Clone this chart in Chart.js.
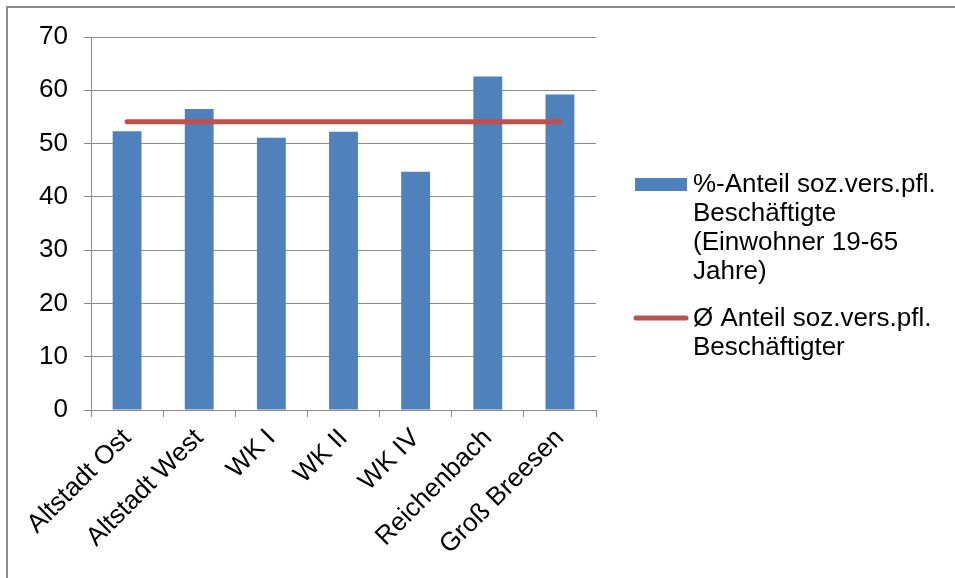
<!DOCTYPE html>
<html>
<head>
<meta charset="utf-8">
<script src="https://cdn.jsdelivr.net/npm/chart.js@4/dist/chart.umd.min.js"></script>
<style>
  html, body { margin: 0; padding: 0; background: #fff; }
  #chartAnteil { display: block; }
</style>
</head>
<body>
<canvas id="chartAnteil" width="955" height="578"></canvas>
<script>
const stadtteile = ['Altstadt Ost', 'Altstadt West', 'WK I', 'WK II', 'WK IV', 'Reichenbach', 'Groß Breesen']
const anteilBeschaeftigte = [52.3, 56.5, 51.1, 52.2, 44.7, 62.6, 59.2]
const durchschnittAnteil = [54.1, 54.1, 54.1, 54.1, 54.1, 54.1, 54.1]
const labelBalken = '%-Anteil soz.vers.pfl. Beschäftigte (Einwohner 19-65 Jahre)'
const labelLinie = 'Ø Anteil soz.vers.pfl. Beschäftigter'
const legendeBalken = ['%-Anteil soz.vers.pfl.', 'Beschäftigte', '(Einwohner 19-65', 'Jahre)']
const legendeLinie = ['Ø Anteil soz.vers.pfl.', 'Beschäftigter']

const fuente = "'Liberation Sans', Arial, sans-serif"
const gris = '#8a8a8a'

// marco gris arriba / izquierda
const marcoPlugin = {
    id: 'marco',
    beforeDraw(chart) {
        const ctx = chart.ctx
        ctx.save()
        ctx.strokeStyle = gris
        ctx.lineWidth = 2
        ctx.beginPath()
        ctx.moveTo(7, 578)
        ctx.lineTo(7, 7)
        ctx.lineTo(955, 7)
        ctx.stroke()
        ctx.restore()
    }
}

// leyenda a la derecha, con saltos de linea como en el original
const leyendaPlugin = {
    id: 'leyenda',
    afterDraw(chart) {
        const ctx = chart.ctx
        const dsBar = chart.data.datasets[0]
        const dsLine = chart.data.datasets[1]
        ctx.save()
        ctx.font = `26px ${fuente}`
        ctx.textBaseline = 'middle'
        ctx.textAlign = 'left'

        ctx.fillStyle = dsBar.backgroundColor
        ctx.fillRect(635, 178, 52, 13)
        ctx.fillStyle = '#000'
        legendeBalken.forEach((linea, i) => {
            ctx.fillText(linea, 693, 185 + i * 29)
        })

        ctx.strokeStyle = dsLine.borderColor
        ctx.lineWidth = 5
        ctx.lineCap = 'round'
        ctx.beginPath()
        ctx.moveTo(636, 318)
        ctx.lineTo(686, 318)
        ctx.stroke()
        legendeLinie.forEach((linea, i) => {
            ctx.fillText(linea, 693, 319 + i * 29)
        })
        ctx.restore()
    }
}

Chart.defaults.font.family = fuente
Chart.defaults.font.size = 26
Chart.defaults.color = '#000'

const canvas = document.getElementById('chartAnteil')
const context = canvas.getContext('2d')

const chartAnteil = new Chart(context, {
    type: 'bar',
    data: {
        labels: stadtteile,
        datasets: [
            {
                type: 'bar',
                label: labelBalken,
                data: anteilBeschaeftigte,
                backgroundColor: '#4F81BD',
                categoryPercentage: 1,
                barPercentage: 0.4,
                order: 1
            },
            {
                type: 'line',
                label: labelLinie,
                data: durchschnittAnteil,
                borderColor: '#C0504D',
                backgroundColor: '#C0504D',
                borderWidth: 5,
                borderCapStyle: 'round',
                pointRadius: 0,
                pointHoverRadius: 0,
                order: 0
            }
        ]
    },
    options: {
        responsive: false,
        animation: false,
        devicePixelRatio: 1,
        layout: {
            padding: { top: 37, right: 359, bottom: 0, left: 0 }
        },
        plugins: {
            legend: { display: false },
            tooltip: { enabled: false }
        },
        scales: {
            x: {
                offset: true,
                grid: {
                    offset: true,
                    drawOnChartArea: false,
                    drawTicks: true,
                    tickLength: 7,
                    color: gris
                },
                border: { display: true, color: gris },
                ticks: {
                    autoSkip: false,
                    minRotation: 45,
                    maxRotation: 45,
                    padding: 6,
                    font: { size: 26 }
                },
                afterFit(scale) {
                    scale.height = 168
                }
            },
            y: {
                min: 0,
                max: 70,
                ticks: {
                    stepSize: 10,
                    padding: 16,
                    font: { size: 26 }
                },
                grid: {
                    color: gris,
                    tickLength: 7
                },
                border: { display: true, color: gris },
                afterFit(scale) {
                    scale.width = 91
                }
            }
        }
    },
    plugins: [marcoPlugin, leyendaPlugin]
})
</script>
</body>
</html>
